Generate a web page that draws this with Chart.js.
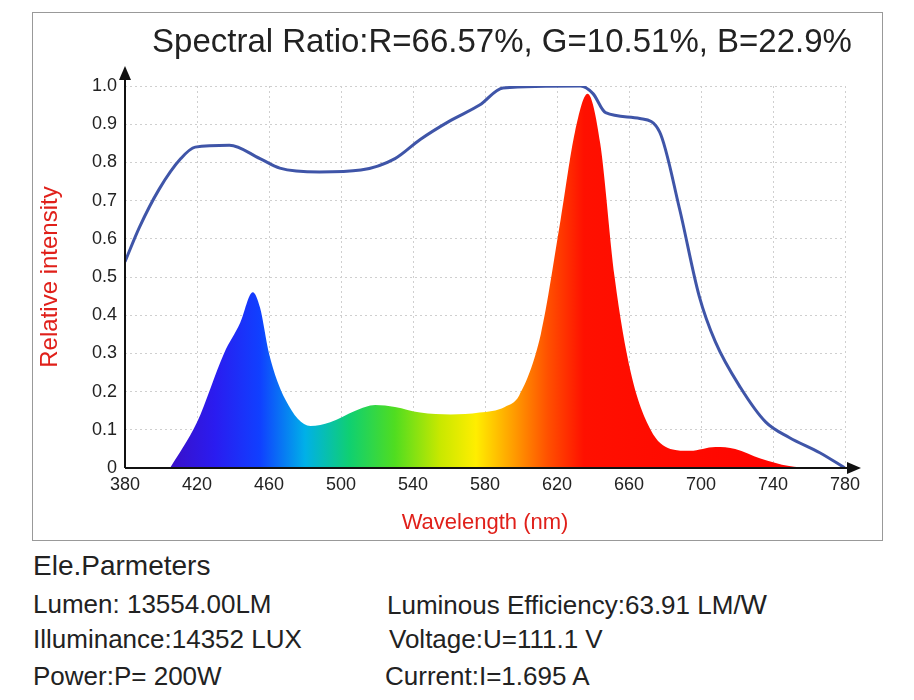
<!DOCTYPE html>
<html><head><meta charset="utf-8">
<script src="https://cdn.jsdelivr.net/npm/chart.js@4"></script>
<style>
body{margin:0;background:#fff;font-family:"Liberation Sans",Arial,sans-serif;width:914px;height:700px;position:relative;overflow:hidden}
#box{position:absolute;left:32px;top:12px;width:849px;height:527px;border:1px solid #999}
#title{position:absolute;left:32px;top:22px;width:850px;text-align:center;font-size:33px;color:#222;padding-left:90px;box-sizing:border-box;white-space:nowrap}
.t{position:absolute;font-size:26px;color:#222;white-space:nowrap}
</style></head><body>
<div id="box"></div>
<div style="position:absolute;left:32px;top:12px;width:850px;height:528px"><canvas id="c" width="850" height="528"></canvas></div>
<div id="title">Spectral Ratio:R=66.57%, G=10.51%, B=22.9%</div>
<div class="t" style="left:33px;top:550px;font-size:28px">Ele.Parmeters</div>
<div class="t" style="left:33px;top:589px">Lumen: 13554.00LM</div>
<div class="t" style="left:33px;top:624px">Illuminance:14352 LUX</div>
<div class="t" style="left:33px;top:661px">Power:P= 200W</div>
<div class="t" style="left:387px;top:589px">Luminous Efficiency:63.91 LM/<span style="font-size:28px">W</span></div>
<div class="t" style="left:389px;top:624px">Voltage:U=111.1 V</div>
<div class="t" style="left:385px;top:661px">Current:I=1.695 A</div>
<script>
const specX=[405,420,435,444,451,455,460,469,483,494,508,519,530,544,561,577,591,599,611,622,630,637,644,652,661,672,683,694,708,719,733,749,760];
const specY=[0,0.12,0.3,0.38,0.46,0.42,0.3,0.18,0.11,0.12,0.15,0.165,0.16,0.145,0.14,0.145,0.16,0.19,0.35,0.65,0.88,0.98,0.85,0.5,0.25,0.1,0.05,0.045,0.055,0.05,0.025,0.005,0];
const lineX=[380,388,399,411,419,438,455,466,488,511,530,544,561,577,590,633,640,647,666,677,688,699,708,722,736,749,766,780];
const lineY=[0.54,0.63,0.73,0.81,0.84,0.845,0.81,0.785,0.775,0.78,0.81,0.86,0.91,0.95,0.995,1.0,0.98,0.93,0.915,0.88,0.68,0.45,0.33,0.21,0.12,0.08,0.04,0];
const xTicks=[380,420,460,500,540,580,620,660,700,740,780];
const colorStops=[[405,'#3a10c8'],[430,'#2a1cf0'],[455,'#1040ff'],[480,'#00b0e8'],[505,'#10d070'],[530,'#50dd20'],[555,'#c8e800'],[575,'#ffee00'],[595,'#ffa000'],[615,'#ff5000'],[635,'#ff1000'],[780,'#ff0000']];
const pts=(xs,ys)=>xs.map((x,i)=>({x,y:ys[i]}));
function grad(ctx){const ch=ctx.chart,a=ch.chartArea;if(!a)return '#f00';const xs=ch.scales.x;
 const g=ch.ctx.createLinearGradient(a.left,0,a.right,0);
 colorStops.forEach(([w,c])=>g.addColorStop((xs.getPixelForValue(w)-a.left)/(a.right-a.left),c));return g;}
const arrows={id:'arrows',afterDraw(ch){const c=ch.ctx,a=ch.chartArea;c.save();c.strokeStyle='#111';c.fillStyle='#111';c.lineWidth=2;
 c.beginPath();c.moveTo(a.left,a.bottom);c.lineTo(a.left,a.top-10);c.moveTo(a.left,a.bottom);c.lineTo(a.right+6,a.bottom);c.stroke();
 c.beginPath();c.moveTo(a.left,a.top-20);c.lineTo(a.left-6,a.top-6);c.lineTo(a.left+6,a.top-6);c.fill();
 c.beginPath();c.moveTo(a.right+16,a.bottom);c.lineTo(a.right+2,a.bottom-6);c.lineTo(a.right+2,a.bottom+6);c.fill();c.restore();}};
new Chart(document.getElementById('c'),{type:'line',
 data:{datasets:[
  {data:pts(lineX,lineY),borderColor:'#3f55a8',borderWidth:3,pointRadius:0,fill:false,cubicInterpolationMode:'monotone',order:0},
  {data:pts(specX,specY),borderColor:'rgba(0,0,0,0)',borderWidth:0,backgroundColor:grad,pointRadius:0,fill:'origin',cubicInterpolationMode:'monotone',order:1}]},
 plugins:[arrows],
 options:{responsive:false,animation:false,devicePixelRatio:1,
  layout:{padding:{top:74,right:37,left:0,bottom:0}},
  plugins:{legend:{display:false},tooltip:{enabled:false}},
  scales:{
   x:{type:'linear',min:380,max:780,afterBuildTicks:s=>{s.ticks=xTicks.map(v=>({value:v}))},
     afterFit:s=>{s.height=72},
     ticks:{color:'#222',font:{size:18},padding:6,autoSkip:false,maxRotation:0},
     grid:{color:'#cfcfcf',lineWidth:1,drawTicks:false},border:{display:false,dash:[2,3]},
     title:{display:true,text:'Wavelength (nm)',color:'#e0201a',font:{size:22},padding:{top:4}}},
   y:{min:0,max:1,afterFit:s=>{s.width=93},
     ticks:{stepSize:0.1,color:'#222',font:{size:18},padding:8,callback:v=>v===0?'0':v.toFixed(1)},
     grid:{color:'#cfcfcf',drawTicks:false},border:{display:false,dash:[2,3]},
     title:{display:true,text:'Relative intensity',color:'#e0201a',font:{size:24},padding:{bottom:4}}}}}
});
</script>
</body></html>
